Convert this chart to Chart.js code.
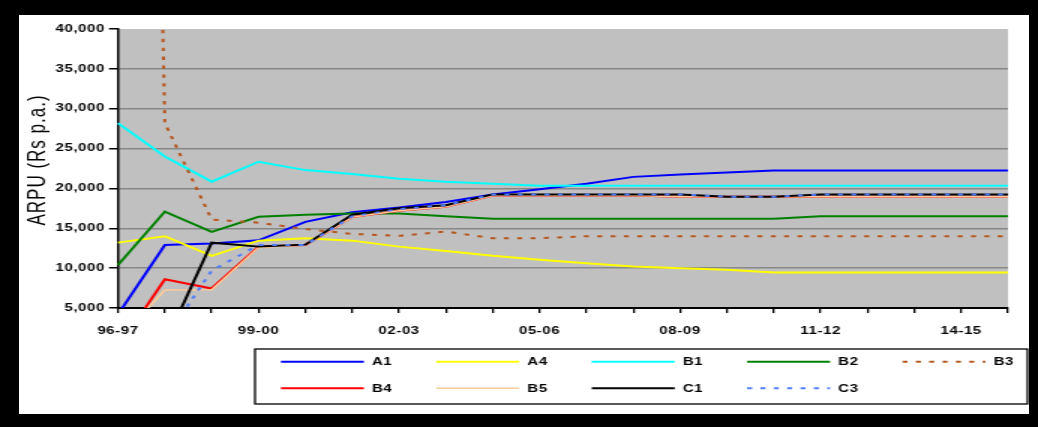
<!DOCTYPE html>
<html><head><meta charset="utf-8">
<script src="https://cdn.jsdelivr.net/npm/chart.js@4/dist/chart.umd.min.js"></script>
<style>
html,body{margin:0;padding:0;background:#000;width:1038px;height:427px;overflow:hidden;}
#frame{position:absolute;left:19px;top:15px;width:1010px;height:399px;background:#fff;}
#wrap{position:absolute;left:0;top:0;width:692px;height:427px;transform:scaleX(1.5);transform-origin:0 0;}
</style></head><body>
<div id="frame"></div>
<div id="wrap"><canvas id="c" width="692" height="427"></canvas></div>
<script>
// ---- data ----
const categories = ['96-97','97-98','98-99','99-00','00-01','01-02','02-03','03-04','04-05','05-06','06-07','07-08','08-09','09-10','10-11','11-12','12-13','13-14','14-15','15-16'];
const shownTickLabels = ['96-97','99-00','02-03','05-06','08-09','11-12','14-15'];
const yMin = 5000, yMax = 40000, yStep = 5000;
const seriesNames = ['A1','A4','B1','B2','B3','B4','B5','C1','C3'];
const A1 = [4200,12900,13100,13500,15800,17000,17600,18300,19250,19900,20600,21450,21750,22000,22250,22250,22250,22250,22250,22250];
const A4 = [13200,14000,11550,13450,13750,13450,12700,12150,11550,11050,10600,10200,10000,9800,9450,9450,9450,9450,9450,9450];
const B1 = [28200,24000,20850,23350,22300,21800,21200,20850,20600,20350,20350,20350,20350,20350,20350,20350,20350,20350,20350,20350];
const B2 = [10400,17100,14550,16450,16700,16850,16850,16500,16200,16200,16200,16200,16200,16200,16200,16500,16500,16500,16500,16500];
const B3 = [300000,28200,16100,15700,14900,14300,14050,14600,13750,13750,14000,14000,14000,14000,14000,14000,14000,14000,14000,14000];
const B4 = [0,8600,7450,12700,12900,16400,17200,17700,19100,19100,19100,19100,18950,18950,18950,18950,18950,18950,18950,18950];
const B5 = [950,7250,7300,12600,12900,16400,17200,17700,19100,19100,19100,19100,18950,18950,18950,18950,18950,18950,18950,18950];
const C1 = [null,500,13200,12700,12950,16700,17500,17900,19250,19250,19250,19250,19250,18950,18950,19250,19250,19250,19250,19250];
const C3 = [null,1100,9700,12900,12900,16500,17400,17900,19250,19250,19250,19250,19250,18950,18950,19250,19250,19250,19250,19250];
const seriesValues = [A1,A4,B1,B2,B3,B4,B5,C1,C3];
const seriesColors = ['#0000ff','#ffff00','#00ffff','#008000','#b5561f','#ff0000','#ffcc99','#000000','#4f7dff'];
const seriesDash = [[],[],[],[],[3.3,5.6],[],[],[],[3.3,5.6]];
const seriesWidth = [2,2,2,2,2,2,1.5,2,2];

const datasets = seriesNames.map((n,i)=>({
  label:n, data:seriesValues[i], borderColor:seriesColors[i], backgroundColor:seriesColors[i],
  borderWidth:seriesWidth[i], borderDash:seriesDash[i], pointRadius:0, tension:0, fill:false,
  order: seriesNames.length - i
}));

const bgPlugin = {
  id:'bg',
  beforeDraw(chart){
    const ctx = chart.ctx, a = chart.chartArea;
    ctx.letterSpacing = '0.4px';
    ctx.save();
    ctx.fillStyle = '#c0c0c0';
    ctx.fillRect(a.left, a.top, a.right-a.left, a.bottom-a.top);
    ctx.restore();
  },
  afterDraw(chart){
    const ctx = chart.ctx;
    // y axis title
    ctx.save();
    ctx.letterSpacing = '1px';
    ctx.translate(25.5, 160);
    ctx.rotate(-Math.PI/2);
    ctx.font = '17px "Liberation Sans", Arial, sans-serif';
    ctx.fillStyle = '#000';
    ctx.textAlign = 'center';
    ctx.textBaseline = 'middle';
    ctx.fillText('ARPU (Rs p.a.)', 0, 0);
    ctx.restore();
    // legend
    ctx.save();
    ctx.strokeStyle = '#000';
    ctx.lineWidth = 1.3;
    ctx.strokeRect(170, 349, 515, 55);
    ctx.font = 'bold 10px "Liberation Sans", Arial, sans-serif';
    ctx.letterSpacing = '0.4px';
    ctx.textBaseline = 'middle';
    ctx.textAlign = 'left';
    seriesNames.forEach((n,i)=>{
      const col = i % 5, row = Math.floor(i/5);
      const x0 = 187.3 + col*103.6;
      const y = row === 0 ? 361.7 : 388.3;
      ctx.beginPath();
      ctx.setLineDash(seriesDash[i]);
      ctx.strokeStyle = seriesColors[i];
      ctx.lineWidth = seriesWidth[i];
      ctx.moveTo(x0, y); ctx.lineTo(x0+55.3, y);
      ctx.stroke();
      ctx.setLineDash([]);
      ctx.fillStyle = '#000';
      ctx.fillText(n, x0+60.7, y+0.5);
    });
    ctx.restore();
  }
};

new Chart(document.getElementById('c'), {
  type:'line',
  data:{labels:categories, datasets},
  options:{
    responsive:false, animation:false, devicePixelRatio:1, events:[],
    layout:{padding:{left:0, top:29, right:20, bottom:0}},
    plugins:{legend:{display:false}, tooltip:{enabled:false}},
    scales:{
      x:{
        type:'category', offset:false,
        border:{display:true, color:'#000', width:2},
        grid:{drawOnChartArea:false, drawTicks:true, tickLength:5, color:'#000', tickColor:'#000', lineWidth:1.3},
        ticks:{autoSkip:false, maxRotation:0, minRotation:0, padding:12, color:'#000',
          font:{family:'"Liberation Sans", Arial, sans-serif', size:10, weight:'bold'},
          callback:function(v,i){ const l = categories[i]; return shownTickLabels.includes(l) ? l : ''; }},
        afterFit(s){ s.height = 119; }
      },
      y:{
        min:yMin, max:yMax,
        border:{display:true, color:'#000', width:1.5},
        grid:{color:(c)=> (c.tick && c.tick.value===yMax) ? 'rgba(0,0,0,0)' : '#888888', lineWidth:1.5, tickLength:6, tickColor:'#000', tickWidth:1.5},
        ticks:{stepSize:yStep, padding:2.7, color:'#000',
          font:{family:'"Liberation Sans", Arial, sans-serif', size:10, weight:'bold'}},
        afterFit(s){ s.width = 78.67; }
      }
    }
  },
  plugins:[bgPlugin]
});
</script>
</body></html>
